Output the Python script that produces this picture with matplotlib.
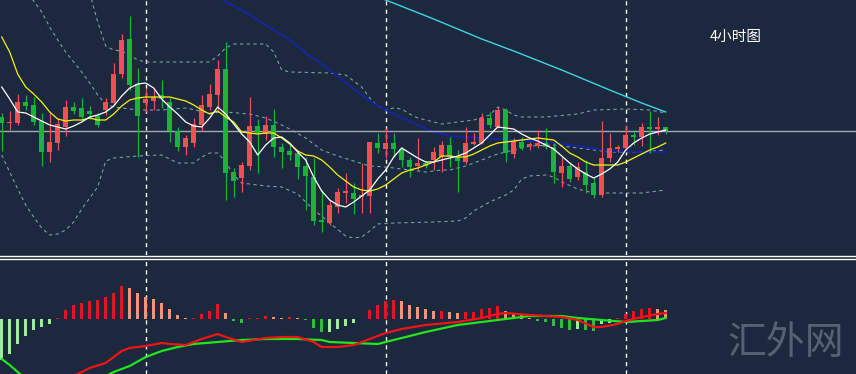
import numpy as np
import matplotlib.pyplot as plt
from matplotlib.lines import Line2D

plt.rcParams['font.family'] = ['Noto Sans CJK SC', 'DejaVu Sans']

# 4h candles, chart units (no price axis shown)
opens = [138, 132, 132, 153.5, 150, 134, 103.5, 112.5, 128, 148.5,
         147, 144, 139, 145.5, 152.5, 181.5, 216, 171, 152, 154.5,
         160, 153.5, 124, 108.5, 112, 130, 148.5, 160, 186, 83,
         77, 89, 129, 121.5, 130, 108, 104, 102, 89, 78,
         35, 32, 48, 62, 62.5, 58, 59, 112.5, 106.5, 112,
         106, 95, 89, 92, 95, 98, 110, 98, 93, 111.5,
         112.5, 137, 128.5, 145.5, 101, 113, 109, 109, 112, 108,
         82, 89, 78, 83, 72, 60, 97, 106.5, 107, 120,
         118, 128, 126, 128]
highs = [142, 144, 161, 160, 158, 142, 142, 137, 155, 153,
         157, 149, 142, 157, 192, 221, 239, 187, 167, 166,
         175, 157, 128.5, 120, 137, 160, 171.5, 195, 213, 87,
         93, 158, 136, 139.5, 146.5, 112, 110, 105, 98, 97.5,
         65, 55, 67, 82, 72, 92, 113, 122, 127.5, 122,
         108, 98, 117, 94, 108, 114, 118, 105, 128, 122,
         142, 143, 148.5, 147.5, 117, 118, 113, 125, 127, 112,
         98, 93, 93, 95, 78, 134, 122, 110, 130, 123,
         132, 144, 138, 128]
lows = [104, 125, 130, 145, 130, 89, 93.5, 105, 119, 141,
        136, 136, 128, 140, 150, 177, 165, 98.5, 143, 145,
        147, 113.5, 104, 100, 108.5, 124, 145, 145, 55, 58,
        63, 85, 82, 115, 98.5, 87, 95, 76, 45, 30,
        23, 30, 42, 52, 41, 42, 42, 102.5, 97.5, 98,
        88, 78, 85, 87, 85, 83, 88, 63, 91, 110.5,
        111.5, 127, 127, 93, 97, 105, 105, 107, 106, 72,
        68, 73, 75, 62, 57, 58, 93, 103, 105, 110,
        109, 102, 120, 121]
closes = [132, 133.5, 153.5, 149, 133.5, 103.5, 113.5, 131.5, 148.5, 144,
          138.5, 141, 130, 153, 181, 215, 170, 139, 156, 158.5,
          156, 124.5, 108.5, 117.5, 131, 150, 161, 186.5, 82, 74,
          90, 129, 122.5, 130, 108, 103, 100, 88, 79.5, 34,
          33, 50, 63, 64, 56.5, 60, 113, 107, 112, 106,
          95.5, 88, 92.5, 89, 103, 110, 98, 94, 112.5, 113,
          137.5, 130, 145.5, 102, 114, 107, 111, 112, 108, 83,
          89, 76, 88, 70, 60, 97, 107, 108, 120, 118,
          128, 126, 128, 124]

ma_fast = [168, 156, 143, 142, 138, 134, 130, 128, 126, 129,
           133, 138, 140, 143, 149, 159, 167, 171, 172, 167,
           156, 148, 141, 133, 129, 128, 137, 148, 141, 131,
           121, 113, 100, 110, 117, 118, 112, 103, 95, 78,
           64, 55, 50, 48, 53, 59, 65, 76, 85, 98,
           107, 102, 97, 93, 93, 95, 97, 99, 102, 107,
           112, 120, 128, 127, 126, 121, 117, 114, 110, 106,
           99, 92, 86, 81, 77, 81, 86, 93, 105, 112,
           117, 121, 123, 125]
ma_slow = [218, 203, 181, 168, 161, 153, 143, 136, 134, 135,
           135, 137, 135, 135, 141, 149, 155, 157, 158, 158,
           158, 158, 156, 154, 150, 145, 141, 144, 138, 133,
           123, 122, 121, 122, 122, 117, 111, 104, 100, 99,
           95, 88, 80, 74, 68, 65, 64, 66, 70, 76,
           82, 85, 87, 90, 93, 99, 99, 98, 98, 101,
           105, 109, 112, 113, 114, 115, 116, 117, 116, 115,
           109, 102, 98, 93, 90, 90, 90, 90, 93, 97,
           101, 105, 108, 112]

blue_idx = [27, 28, 30, 32, 34, 36, 38, 40, 42, 44, 46, 48, 50, 52, 54, 56,
            58, 60, 64, 68, 72, 76, 80, 83]
blue_ma = [260, 253, 245, 235, 225, 215, 202, 191, 179, 166, 154, 145, 137,
           130, 123, 119, 118, 117, 115, 113, 109, 104, 103, 103]
cyan_idx = [47, 48, 54, 60, 64, 70, 76, 80, 83]
cyan_ma = [258, 255, 236, 216, 204, 185, 165, 152, 143]

bb_up_idx = [11, 12, 13, 14, 15, 16, 17, 18, 22, 26, 27, 28, 29, 33, 34, 35,
             36, 41, 43, 45, 46, 47, 48, 49, 50, 51, 52, 55, 59, 61, 62, 63,
             64, 65, 68, 72, 74, 78, 81, 83]
bb_up = [262, 233, 209, 205, 204, 200, 195, 193, 193, 193, 199, 207, 211, 211,
         203, 185, 183, 182, 180, 168, 157, 149, 145, 147, 146, 141, 137, 131,
         135, 140, 148, 145, 140, 138, 138, 141, 145, 146, 145, 142]
bb_mid_idx = [3, 4, 5, 6, 7, 8, 9, 10, 11, 12, 13, 14, 17, 20, 23, 26, 28, 31,
              33, 35, 36, 38, 40, 42, 44, 46, 48, 51, 53, 55, 56, 58, 60, 62,
              64, 66, 69, 72, 76, 80, 83]
bb_mid = [265, 254, 243, 228, 215, 203, 193, 183, 172, 160, 151, 148, 145, 145,
          147, 142, 143, 141, 137, 130, 126, 117, 105, 99, 94, 89, 88, 85, 83,
          85, 85, 89, 95, 101, 105, 109, 110, 107, 103, 103, 105]
bb_lo_idx = [0, 1, 2, 3, 4, 5, 6, 7, 8, 9, 10, 11, 12, 13, 14, 17, 20, 22, 24,
             25, 26, 27, 28, 29, 30, 33, 35, 37, 38, 39, 40, 41, 43, 44, 45, 46,
             47, 49, 54, 57, 58, 59, 61, 63, 64, 65, 66, 68, 69, 70, 72, 74, 80, 83]
bb_lo = [100, 83, 66, 50, 38, 27, 20, 21, 25, 33, 46, 57, 68, 94, 97, 99, 100,
         92, 92, 98, 102, 102, 93, 80, 72, 69, 68, 61, 53, 45, 39, 32, 19, 17,
         18, 24, 31, 32, 33, 34, 37, 44, 53, 60, 65, 76, 79, 80, 78, 73, 66, 62,
         62, 65]

# MACD panel
macd_hist = [-41, -35, -25, -17, -11, -8, -5, 1.5, 9, 14,
             16, 18, 19, 22, 26, 33, 31, 26, 22, 20,
             16, 10, 4, 1, 1.5, 5, 8, 15, 6, -1.5,
             -4, 0.7, 1, 3, 2, 1.5, 2.5, 1.2, -1, -9,
             -13, -12.5, -10, -7, -3.5, 0.5, 9, 14, 18, 19,
             18, 14, 12, 10, 8, 8.5, 7, 6, 7, 7.5,
             10, 11.5, 13.5, 8, 6, 4, 1, -1.5, -3, -7,
             -8.5, -10.5, -10, -11, -12, -5, -4, 0.7, 5, 8,
             10, 11, 10.5, 9]
dif_idx = [8, 9, 11, 13, 14, 15, 16, 18, 20, 21, 23, 25, 27, 28, 30, 33, 35, 37,
           39, 40, 42, 44, 45, 48, 50, 53, 57, 60, 62, 63, 66, 70, 72, 74, 75,
           77, 78, 80, 82, 83]
dif = [-62, -57, -49, -44, -38, -32, -29, -27, -24, -25, -26, -20, -15, -18,
       -23, -19, -18, -18, -23, -28, -28, -26, -23, -14, -10, -6, -3, 1, 5, 6,
       4, 2, -1, -8, -8, -5, -2, 2, 5, 6]
dea_idx = [0, 1, 2, 3, 8, 13, 14, 16, 18, 20, 22, 24, 27, 30, 33, 37, 40, 41,
           44, 47, 48, 51, 53, 57, 62, 66, 70, 72, 75, 78, 82, 83]
dea = [-40, -46, -53, -60, -72, -57, -53, -47, -38, -32, -28, -25, -23, -21,
       -20, -20, -21, -23, -24, -25, -23, -17, -13, -6, -1, 3, 3, 1, -1, -3,
       -1, 1]

week_marks = [18, 48, 78]

bg = '#1c283d'
W, H = 856, 374
fig = plt.figure(figsize=(W / 100, H / 100), dpi=100, facecolor=bg)
ax = fig.add_axes([0, 1 - 255 / H, 1, 255 / H])
ax2 = fig.add_axes([0, 0, 1, 114 / H])
for a in (ax, ax2):
    a.set_facecolor(bg)
    a.set_xlim(-1.7 / 8, (W - 1.7) / 8)
    a.set_xticks([])
    a.set_yticks([])
    for s in a.spines.values():
        s.set_visible(False)
    for m in week_marks:
        a.axvline(m, color='white', lw=1, ls=(0, (3, 3)), zorder=1)
ax.set_ylim(0, 255)
ax2.set_ylim(-55, 59)

idx = np.arange(len(opens))
o, h, l, c = map(np.array, (opens, highs, lows, closes))

# bands and long averages
band_kw = dict(color='#7aa0a6', lw=0.8, ls=(0, (3, 3)), zorder=2)
ax.plot(bb_up_idx, bb_up, **band_kw)
ax.plot(bb_mid_idx, bb_mid, **band_kw)
ax.plot(bb_lo_idx, bb_lo, **band_kw)
ax.plot(blue_idx, blue_ma, color='#1424a8', lw=1.3, zorder=2)
ax.plot(cyan_idx, cyan_ma, color='#3fd3e6', lw=1, zorder=2)
ax.axhline(closes[-1], color='#a3a8b0', lw=1, zorder=2)

# candles
up = c >= o
col = np.where(up, '#f24e54', '#1ab33c')
ax.vlines(idx, l, h, colors=col, lw=0.9, zorder=3)
ax.bar(idx, np.maximum(np.abs(c - o), 1.2), bottom=np.minimum(o, c),
       width=0.62, color=col, linewidth=0, zorder=4)

ax.plot(idx, ma_slow, color='#f4f40c', lw=0.9, zorder=5)
ax.plot(idx, ma_fast, color='white', lw=0.9, zorder=6)

# MACD
v = np.array(macd_hist)
prev = np.r_[v[0] - 1, v[:-1]]
hcol = np.where(v >= 0,
                np.where(v >= prev, '#e3171b', '#f39573'),
                np.where(v <= prev, '#2fbf3f', '#9ded97'))
ax2.bar(idx, v, width=0.38, color=hcol, linewidth=0, zorder=2)
ax2.plot(dea_idx, dea, color='#22e51c', lw=1.6, zorder=3)
ax2.plot(dif_idx, dif, color='#f01414', lw=1.6, zorder=4)

# panel separator
for yy in (256, 258.5):
    fig.add_artist(Line2D([0, 1], [1 - yy / H, 1 - yy / H], color='white', lw=1))

fig.text(736 / W, 1 - 37 / H, '4小时图', color='white', fontsize=10.5,
         ha='center', va='center')
fig.text(786 / W, 1 - 343 / H, '汇外网', color='#566173', fontsize=28,
         ha='center', va='center')

fig.savefig('out.png', dpi=100, facecolor=bg)
